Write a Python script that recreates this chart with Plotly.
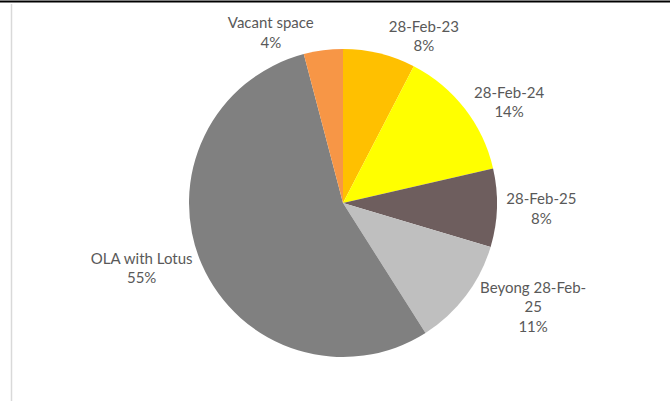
import plotly.graph_objects as go

# lease expiry split, clockwise from 12 o'clock
categories = ['28-Feb-23', '28-Feb-24', '28-Feb-25', 'Beyong 28-Feb-25', 'OLA with Lotus', 'Vacant space']
label_text = ['28-Feb-23', '28-Feb-24', '28-Feb-25', 'Beyong 28-Feb-<br>25', 'OLA with Lotus', 'Vacant space']
shares = [7.6, 13.8, 8.2, 11.4, 54.9, 4.1]
colors = ['#FFC000', '#FFFF00', '#6E5E5E', '#BFBFBF', '#808080', '#F79646']

W, H = 670, 401
cx, cy, r = 343, 203, 154

fig = go.Figure()

fig.add_trace(go.Pie(
    labels=categories,
    values=shares,
    text=label_text,
    texttemplate='%{text}<br>%{percent:.0%}',
    textposition='outside',
    textfont=dict(family='Lato', size=15, color='#595959'),
    marker=dict(colors=colors, line=dict(width=0)),
    sort=False,
    direction='clockwise',
    rotation=0,
    showlegend=False,
    hoverinfo='label+percent',
    domain=dict(x=[(cx - r) / W, (cx + r) / W],
                y=[(H - cy - r) / H, (H - cy + r) / H]),
))

fig.update_layout(
    width=W,
    height=H,
    margin=dict(l=0, r=0, t=0, b=0),
    paper_bgcolor='white',
    shapes=[
        dict(type='line', xref='paper', yref='paper', x0=0, x1=1, y0=1 - 1.5 / H, y1=1 - 1.5 / H,
             line=dict(color='black', width=2)),
        dict(type='line', xref='paper', yref='paper', x0=11.5 / W, x1=11.5 / W, y0=0, y1=1 - 4 / H,
             line=dict(color='#D9D9D9', width=1.5)),
    ],
)

fig.write_html("out.html", config={'displayModeBar': False},
               post_script="document.body.style.margin='0';")
